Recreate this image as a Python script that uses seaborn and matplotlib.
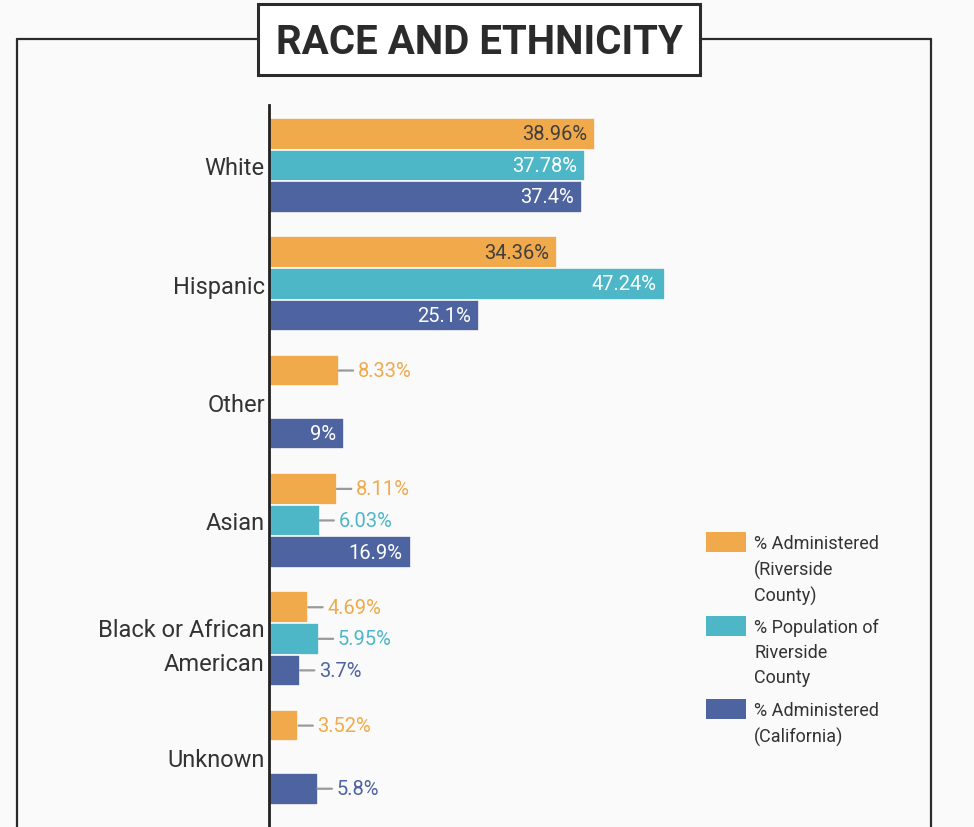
import matplotlib
matplotlib.use("Agg")
import matplotlib.pyplot as plt
from matplotlib.lines import Line2D
from matplotlib.patches import Rectangle
import numpy as np
import pandas as pd
import seaborn as sns

# ---------------------------------------------------------------------------
# Data
# ---------------------------------------------------------------------------
CATEGORIES = ["White", "Hispanic", "Other", "Asian", "Black or African\nAmerican", "Unknown"]
SERIES = [
    "% Administered\n(Riverside\nCounty)",
    "% Population of\nRiverside\nCounty",
    "% Administered\n(California)",
]
ADMIN_RIVERSIDE = [38.96, 34.36, 8.33, 8.11, 4.69, 3.52]
POP_RIVERSIDE = [37.78, 47.24, np.nan, 6.03, 5.95, np.nan]
ADMIN_CALIFORNIA = [37.4, 25.1, 9.0, 16.9, 3.7, 5.8]
VALUE_LABELS = [
    ["38.96%", "34.36%", "8.33%", "8.11%", "4.69%", "3.52%"],
    ["37.78%", "47.24%", "", "6.03%", "5.95%", ""],
    ["37.4%", "25.1%", "9%", "16.9%", "3.7%", "5.8%"],
]

COLORS = ["#F0AA4C", "#4DB7C8", "#4E64A0"]
INSIDE_TEXT = ["#3f3f3f", "white", "white"]
BG = "#FAFAFA"
INK = "#2b2b2b"

W, H = 974, 828

df = pd.DataFrame({
    "category": CATEGORIES * 3,
    "series": [s for s in SERIES for _ in CATEGORIES],
    "value": ADMIN_RIVERSIDE + POP_RIVERSIDE + ADMIN_CALIFORNIA,
})

sns.set_theme(style="white")
plt.rcParams["font.family"] = ["Roboto", "DejaVu Sans"]

fig = plt.figure(figsize=(W / 100, H / 100), dpi=100, facecolor=BG)


def px(x, y):
    """pixel (from top-left) -> figure fraction"""
    return x / W, 1 - y / H


# outer frame + title box
fx0, fy0 = px(17, 40)
fx1, _ = px(931, 0)
frame_kw = dict(color=INK, lw=1.6, transform=fig.transFigure)
fig.add_artist(Line2D([fx0, fx1], [fy0, fy0], **frame_kw))
fig.add_artist(Line2D([fx0, fx0], [fy0, -0.05], **frame_kw))
fig.add_artist(Line2D([fx1, fx1], [fy0, -0.05], **frame_kw))
tx0, ty1 = px(258, 5)
tx1, ty0 = px(700, 76)
fig.add_artist(Rectangle((tx0, ty0), tx1 - tx0, ty1 - ty0, transform=fig.transFigure,
                         facecolor="white", edgecolor=INK, lw=2.2, zorder=5))
fig.text((tx0 + tx1) / 2, (ty0 + ty1) / 2 - 0.003, "RACE AND ETHNICITY", ha="center", va="center",
         fontsize=29, fontweight="bold", color=INK, zorder=6)

# chart axes
ax_left, ax_top = px(269, 106)
ax = fig.add_axes([ax_left, 0, 0.43, ax_top])
ax.set_facecolor(BG)

sns.barplot(data=df, y="category", x="value", hue="series", order=CATEGORIES,
            hue_order=SERIES, palette=COLORS, orient="h", width=0.8,
            edgecolor=BG, linewidth=1.2, saturation=1, legend=False, ax=ax)

ax.set_xlim(0, 50)
ax.set_ylim(5.59, -0.51)
ax.set_xlabel("")
ax.set_ylabel("")
ax.set_xticks([])
for side in ["top", "right", "bottom"]:
    ax.spines[side].set_visible(False)
ax.spines["left"].set_color("#222222")
ax.spines["left"].set_linewidth(2)
ax.tick_params(axis="y", length=0, pad=3, labelsize=17, labelcolor="#333333")
for t in ax.get_yticklabels():
    t.set_linespacing(1.6)

# value labels
series_values = [ADMIN_RIVERSIDE, POP_RIVERSIDE, ADMIN_CALIFORNIA]
for s_idx, container in enumerate(ax.containers):
    labels = [l for l, v in zip(VALUE_LABELS[s_idx], series_values[s_idx]) if np.isfinite(v)]
    bars = [b for b in container if np.isfinite(b.get_width()) and b.get_width() > 0]
    for bar, text in zip(bars, labels):
        w = bar.get_width()
        yc = bar.get_y() + bar.get_height() / 2
        if w >= 9:
            ax.annotate(text, xy=(w, yc), xytext=(-8, 0), textcoords="offset pixels",
                        ha="right", va="center", fontsize=14.5, color=INSIDE_TEXT[s_idx])
        else:
            ax.annotate(text, xy=(w, yc), xytext=(19, 0), textcoords="offset pixels",
                        ha="left", va="center", fontsize=14.5, color=COLORS[s_idx],
                        arrowprops=dict(arrowstyle="-", color="#9a9a9a", lw=1.6,
                                        shrinkA=1, shrinkB=0))

# legend: swatch aligned with the first line of each (wrapped) label
legend_tops = [533, 617, 700]
for color, label, top in zip(COLORS, SERIES, legend_tops):
    sx, sy = px(706, top + 20)
    fig.add_artist(Rectangle((sx, sy), 40 / W, 20 / H, transform=fig.transFigure,
                             facecolor=color, edgecolor="none"))
    lx, ly = px(754, top + 2)
    fig.text(lx, ly, label, ha="left", va="top", fontsize=13, color="#333333",
             linespacing=1.5)

fig.savefig("out.png", dpi=100, facecolor=BG)
